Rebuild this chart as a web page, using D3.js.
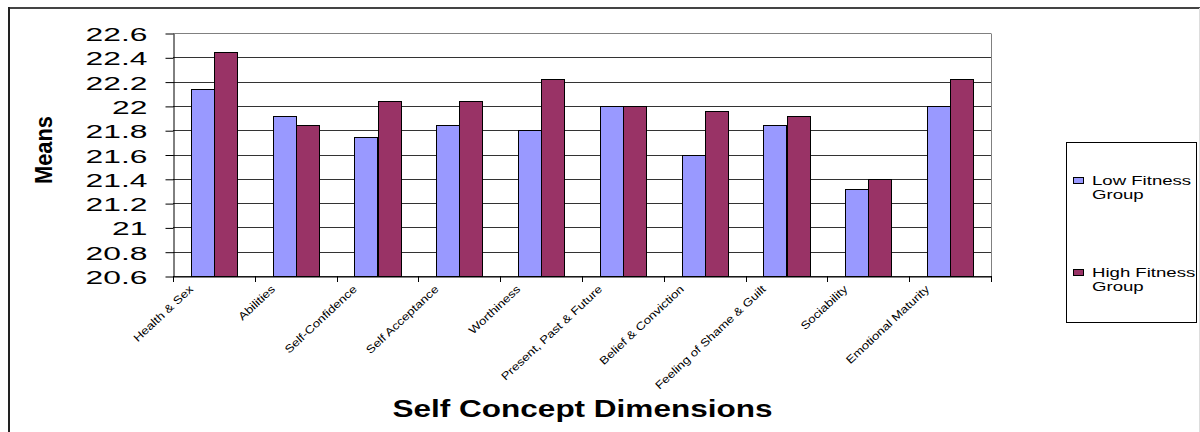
<!DOCTYPE html>
<html>
<head>
<meta charset="utf-8">
<script src="https://cdn.jsdelivr.net/npm/d3@7"></script>
<style>
  html, body { margin: 0; padding: 0; background: #fff; }
  svg { display: block; }
  text { font-family: "Liberation Sans", Arial, sans-serif; fill: #000; }
</style>
</head>
<body>
<script>
const categories = ["Health & Sex", "Abilities", "Self-Confidence", "Self Acceptance", "Worthiness",
  "Present, Past & Future", "Belief & Conviction", "Feeling of Shame & Guilt", "Sociability", "Emotional Maturity"];
const lowFitness  = [22.14, 21.92, 21.74, 21.84, 21.80, 22.00, 21.60, 21.84, 21.32, 22.00];
const highFitness = [22.44, 21.84, 22.04, 22.04, 22.22, 22.00, 21.96, 21.92, 21.40, 22.22];
const seriesNames = ["Low Fitness Group", "High Fitness Group"];
const seriesColors = ["#9999FF", "#993366"];
const yTicks = [20.6, 20.8, 21.0, 21.2, 21.4, 21.6, 21.8, 22.0, 22.2, 22.4, 22.6];
const xTitle = "Self Concept Dimensions";
const yTitle = "Means";

const W = 1200, H = 432;
const plot = { left: 173, right: 991, top: 33, bottom: 276 };

const svg = d3.select("body").append("svg").attr("width", W).attr("height", H);

// outer chart border
svg.append("line").attr("x1", 8).attr("x2", 1200).attr("y1", 8).attr("y2", 8)
  .attr("stroke", "#444").attr("stroke-width", 2);
svg.append("line").attr("x1", 9).attr("x2", 9).attr("y1", 7).attr("y2", H)
  .attr("stroke", "#222").attr("stroke-width", 2);
svg.append("line").attr("x1", 1199.5).attr("x2", 1199.5).attr("y1", 8).attr("y2", H)
  .attr("stroke", "#ddd").attr("stroke-width", 1);

const x = d3.scaleBand().domain(categories).range([plot.left, plot.right]).paddingInner(0).paddingOuter(0);
const xs = d3.scaleBand().domain(seriesNames).range([0, x.bandwidth()]).paddingInner(0).paddingOuter(0.778);
const y = d3.scaleLinear().domain([yTicks[0], yTicks[yTicks.length - 1]]).range([plot.bottom, plot.top]);

// gridlines
svg.append("g").selectAll("line").data(yTicks).join("line")
  .attr("x1", plot.left).attr("x2", plot.right)
  .attr("y1", d => Math.round(y(d)) + 0.5).attr("y2", d => Math.round(y(d)) + 0.5)
  .attr("stroke", (d, i) => i === yTicks.length - 1 ? "#808080" : "#333")
  .attr("stroke-width", 1);
// right plot border
svg.append("line").attr("x1", plot.right + 0.5).attr("x2", plot.right + 0.5)
  .attr("y1", Math.round(plot.top) + 0.5).attr("y2", plot.bottom)
  .attr("stroke", "#808080");

// bars
const series = [lowFitness, highFitness];
const barG = svg.append("g");
series.forEach((vals, si) => {
  barG.append("g").selectAll("rect").data(vals).join("rect")
    .attr("x", (d, i) => Math.round(x(categories[i]) + xs(seriesNames[si])) + 0.5)
    .attr("width", Math.round(xs.bandwidth()))
    .attr("y", d => Math.round(y(d)) + 0.5)
    .attr("height", d => Math.round(y(yTicks[0])) - Math.round(y(d)))
    .attr("fill", seriesColors[si])
    .attr("stroke", "#000").attr("stroke-width", 1);
});

// y axis
const yAxis = d3.axisLeft(y).tickValues(yTicks).tickSize(8).tickSizeOuter(0)
  .tickFormat(d => String(+d.toFixed(1)));
const yg = svg.append("g").attr("transform", `translate(${plot.left + 0.5},0.5)`).call(yAxis);
yg.select(".domain").attr("stroke", "#000");
yg.selectAll(".tick line").attr("stroke", "#000");
yg.selectAll(".tick text")
  .attr("x", 0).attr("dy", "0.38em")
  .attr("transform", "translate(-26,0) scale(1.72,1)")
  .style("font-size", "18.5px")
  .style("font-family", "'Liberation Sans', Arial, sans-serif")
  .attr("fill", "#000");

// x axis
const xAxis = d3.axisBottom(x).tickSize(0).tickFormat("");
const xg = svg.append("g").attr("transform", `translate(0,${plot.bottom + 0.5})`).call(xAxis);
xg.select(".domain").attr("stroke", "#000");
const boundaries = categories.map(c => x(c)).concat([plot.right]);
svg.append("g").selectAll("line").data(boundaries).join("line")
  .attr("x1", d => Math.round(d) + 0.5).attr("x2", d => Math.round(d) + 0.5)
  .attr("y1", plot.bottom).attr("y2", plot.bottom + 6)
  .attr("stroke", "#000");

// x tick labels (rotated)
svg.append("g").selectAll("text").data(categories).join("text")
  .attr("text-anchor", "end")
  .attr("transform", d => `translate(${x(d) + x.bandwidth() / 2 - 20},${plot.bottom + 14}) rotate(-43) scale(1.2,1)`)
  .style("font-size", "11px")
  .text(d => d);

// axis titles
svg.append("text")
  .attr("text-anchor", "middle")
  .attr("transform", "translate(52,150) rotate(-90) scale(0.93,1)")
  .style("font-size", "23.5px").style("font-weight", "bold")
  .text(yTitle);
svg.append("text")
  .attr("text-anchor", "middle")
  .attr("transform", "translate(582.5,416.5) scale(1.37,1)")
  .style("font-size", "23px").style("font-weight", "bold")
  .text(xTitle);

// legend
const lg = svg.append("g");
lg.append("rect").attr("x", 1066.5).attr("y", 142.5).attr("width", 130).attr("height", 180)
  .attr("fill", "#fff").attr("stroke", "#000");
const legendY = [177, 269];
seriesNames.forEach((name, i) => {
  lg.append("rect").attr("x", 1073.5).attr("y", legendY[i] + 0.5).attr("width", 10).attr("height", 6)
    .attr("fill", seriesColors[i]).attr("stroke", "#000");
  const words = name.split(" ");
  const line1 = words.slice(0, 2).join(" ");
  const line2 = words.slice(2).join(" ");
  lg.append("text").attr("transform", `translate(1092,${legendY[i] + 8}) scale(1.43,1)`)
    .style("font-size", "13px").text(line1);
  lg.append("text").attr("transform", `translate(1092,${legendY[i] + 22}) scale(1.43,1)`)
    .style("font-size", "13px").text(line2);
});
</script>
</body>
</html>
